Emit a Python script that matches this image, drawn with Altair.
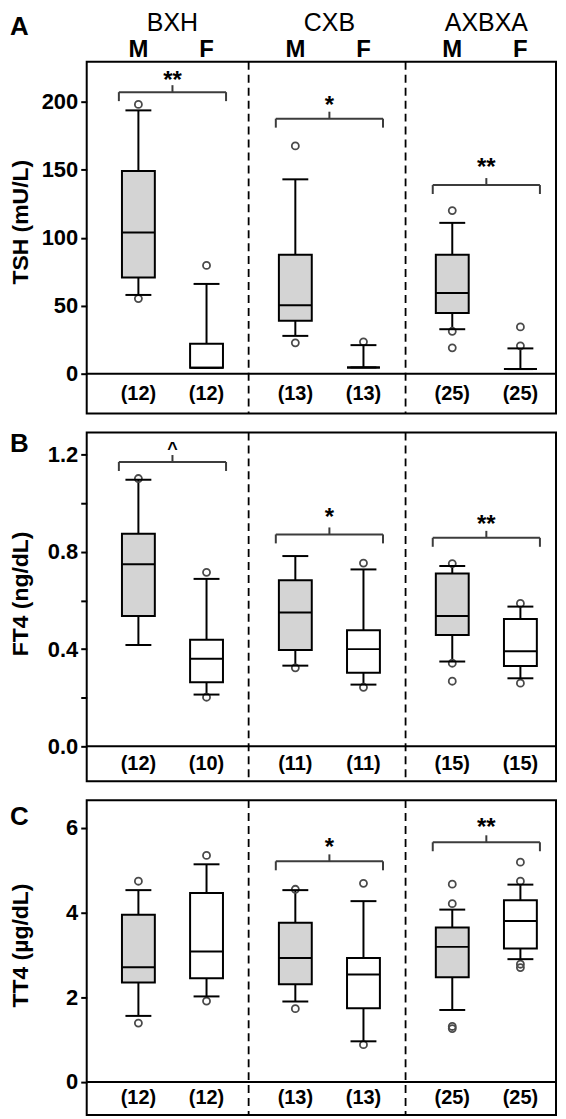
import altair as alt
import pandas as pd

FONT = "Liberation Sans"

groups = ["BXH", "CXB", "AXBXA"]
sexes = ["M", "F"]

# ---------- Panel A : TSH (mU/L) ----------
a_lo = [57.9, 4.4, 27.8, 4.6, 32.7, 3.4]
a_q1 = [70.8, 4.4, 39.0, 4.6, 44.7, 3.4]
a_med = [103.8, 4.4, 50.3, 4.6, 59.3, 3.4]
a_q3 = [149.0, 22.0, 87.4, 4.6, 87.4, 3.4]
a_hi = [193.6, 66.0, 142.9, 21.0, 110.9, 18.6]
a_out = [[198.0, 55.2], [79.6], [167.5, 22.7], [23.4], [119.9, 31.2, 19.0], [34.4, 20.5]]
a_n = [12, 12, 13, 13, 25, 25]
a_sig_groups = ["BXH", "CXB", "AXBXA"]
a_sig_line = [207.0, 187.5, 138.7]
a_sig_text = ["**", "*", "**"]
a_sig_texty = [220.0, 201.7, 156.6]
a_ticks = [0, 50, 100, 150, 200]

# ---------- Panel B : FT4 (ng/dL) ----------
b_lo = [0.417, 0.213, 0.332, 0.254, 0.349, 0.280]
b_q1 = [0.536, 0.264, 0.396, 0.303, 0.458, 0.331]
b_med = [0.749, 0.360, 0.551, 0.400, 0.536, 0.391]
b_q3 = [0.875, 0.439, 0.683, 0.478, 0.711, 0.524]
b_hi = [1.097, 0.689, 0.783, 0.728, 0.742, 0.575]
b_out = [[1.102], [0.716, 0.202], [0.323], [0.754, 0.243], [0.752, 0.342, 0.268], [0.588, 0.260]]
b_n = [12, 10, 11, 11, 15, 15]
b_sig_groups = ["BXH", "CXB", "AXBXA"]
b_sig_line = [1.17, 0.872, 0.858]
b_sig_text = ["^", "*", "**"]
b_sig_texty = [1.235, 0.968, 0.94]
b_ticks = [0.0, 0.2, 0.4, 0.6, 0.8, 1.0, 1.2]

# ---------- Panel C : TT4 (µg/dL) ----------
c_lo = [1.56, 2.02, 1.90, 0.96, 1.70, 2.90]
c_q1 = [2.35, 2.45, 2.31, 1.74, 2.47, 3.15]
c_med = [2.71, 3.08, 2.93, 2.54, 3.19, 3.80]
c_q3 = [3.95, 4.46, 3.76, 2.93, 3.65, 4.29]
c_hi = [4.53, 5.14, 4.53, 4.27, 4.07, 4.66]
c_out = [[4.74, 1.39], [5.35, 1.91], [4.55, 1.73], [4.69, 0.88],
         [4.67, 4.21, 1.31, 1.26], [5.19, 4.74, 2.78, 2.70]]
c_n = [12, 12, 13, 13, 25, 25]
c_sig_groups = ["CXB", "AXBXA"]
c_sig_line = [5.21, 5.66]
c_sig_text = ["*", "**"]
c_sig_texty = [5.70, 6.17]
c_ticks = [0, 2, 4, 6]

# ---------- layout helpers ----------
GROUP_W = 2.05
OFF = {"M": 0.61, "F": 1.50}
BRACKET_HALF = 0.70
W = 471
LEFT = -77


def pos_of(g, s):
    return groups.index(g) * GROUP_W + OFF[s]


keys = [(g, s) for g in groups for s in sexes]


def panel(letter, ytitle, lo, q1, med, q3, hi, outl, ns, sg, sl, st, sty,
          ticks, ydom, height, letter_y, label_expr=None, headers=False):
    ppu = height / (ydom[1] - ydom[0])
    zero_px = height * ydom[1] / (ydom[1] - ydom[0])
    xs = alt.Scale(domain=[0, 6], nice=False, zero=False)
    ys = alt.Scale(domain=ydom, nice=False, zero=False)
    ax = dict(title=ytitle, values=ticks, domain=False, grid=False, ticks=True,
              tickSize=6, tickWidth=2, tickColor="black",
              labelFontSize=22, labelFontWeight="bold", labelColor="black",
              labelPadding=3, labelFont=FONT,
              titleFont=FONT, titleFontSize=23, titleFontWeight="bold",
              titleColor="black", titleX=-66, titleY=zero_px / 2 + 4,
              titleBaseline="middle", titleAlign="center", titleAngle=270)
    if label_expr:
        ax["labelExpr"] = label_expr
    yax = alt.Axis(**ax)

    def X(f):
        return alt.X(f"{f}:Q", scale=xs, axis=None)

    def Y(f):
        return alt.Y(f"{f}:Q", scale=ys, axis=yax)

    df = pd.DataFrame({
        "group": [k[0] for k in keys],
        "sex": [k[1] for k in keys],
        "pos": [pos_of(*k) for k in keys],
        "lo": lo, "q1": q1, "med": med, "q3": q3, "hi": hi, "n": ns,
    })
    df["label"] = ["(%d)" % v for v in ns]
    df["cy"] = ydom[0] / 2

    orows = []
    for k, vals in zip(keys, outl):
        for v in vals:
            orows.append({"pos": pos_of(*k), "v": v})
    odf = pd.DataFrame(orows)

    sep = pd.DataFrame({"x": [GROUP_W, 2 * GROUP_W]})
    zero = pd.DataFrame({"y": [0.0]})

    bdf = pd.DataFrame({"group": sg, "y": sl, "lab": st, "ly": sty})
    bdf["xc"] = [(pos_of(g, "M") + pos_of(g, "F")) / 2 for g in sg]
    bdf["x1"] = bdf["xc"] - BRACKET_HALF
    bdf["x2"] = bdf["xc"] + BRACKET_HALF
    bdf["yend"] = bdf["y"] - 9 / ppu
    bdf["ytop"] = bdf["y"] + 7 / ppu

    base = alt.Chart(df)
    layers = [
        alt.Chart(sep).mark_rule(strokeDash=[8, 5], strokeWidth=1.8, color="black")
        .encode(x=X("x")),
        alt.Chart(zero).mark_rule(strokeWidth=2, color="black").encode(y=Y("y")),
        base.mark_rule(strokeWidth=2, color="black").encode(x=X("pos"), y=Y("q3"), y2="hi:Q"),
        base.mark_rule(strokeWidth=2, color="black").encode(x=X("pos"), y=Y("lo"), y2="q1:Q"),
        alt.Chart(odf).mark_point(shape="circle", size=50, filled=False, opacity=1,
                                  stroke="#4a4a4a", strokeWidth=1.8)
        .encode(x=X("pos"), y=Y("v")),
        base.mark_tick(orient="horizontal", size=26, thickness=2, color="black", opacity=1)
        .encode(x=X("pos"), y=Y("hi")),
        base.mark_tick(orient="horizontal", size=26, thickness=2, color="black", opacity=1)
        .encode(x=X("pos"), y=Y("lo")),
        base.mark_bar(width=33, stroke="black", strokeWidth=2)
        .encode(x=X("pos"), y=Y("q1"), y2="q3:Q",
                fill=alt.Fill("sex:N", scale=alt.Scale(domain=["M", "F"], range=["#d4d4d4", "#ffffff"]),
                              legend=None)),
        base.mark_tick(orient="horizontal", size=33, thickness=2, color="black", opacity=1)
        .encode(x=X("pos"), y=Y("med")),
        # significance brackets
        alt.Chart(bdf).mark_rule(strokeWidth=2, color="#3c3c3c")
        .encode(x=X("x1"), x2="x2:Q", y=Y("y")),
        alt.Chart(bdf).mark_rule(strokeWidth=2, color="#3c3c3c")
        .encode(x=X("x1"), y=Y("y"), y2="yend:Q"),
        alt.Chart(bdf).mark_rule(strokeWidth=2, color="#3c3c3c")
        .encode(x=X("x2"), y=Y("y"), y2="yend:Q"),
        alt.Chart(bdf).mark_rule(strokeWidth=2, color="#3c3c3c")
        .encode(x=X("xc"), y=Y("y"), y2="ytop:Q"),
        alt.Chart(bdf[bdf["lab"] != "^"]).mark_text(font=FONT, fontSize=24, fontWeight="bold",
                                                   baseline="alphabetic", dy=14, color="black")
        .encode(x=X("xc"), y=Y("ly"), text="lab:N"),
        alt.Chart(bdf[bdf["lab"] == "^"]).mark_text(font=FONT, fontSize=18, fontWeight="bold",
                                                   baseline="alphabetic", dy=9, color="black")
        .encode(x=X("xc"), y=Y("ly"), text="lab:N"),
        # sample sizes
        base.mark_text(font=FONT, fontSize=20, fontWeight="bold", baseline="middle", color="black")
        .encode(x=X("pos"), y=Y("cy"), text="label:N"),
        # panel letter
        alt.Chart(pd.DataFrame({"t": [letter]})).mark_text(
            font=FONT, fontSize=26, fontWeight="bold", align="left", baseline="middle", color="black")
        .encode(x=alt.value(LEFT), y=alt.value(letter_y), text="t:N"),
    ]
    if headers:
        hdf = pd.DataFrame({"pos": [pos_of(*k) for k in keys], "s": [k[1] for k in keys]})
        gdf = pd.DataFrame({"g": groups,
                            "pos": [(pos_of(g, "M") + pos_of(g, "F")) / 2 for g in groups]})
        layers.append(
            alt.Chart(hdf).mark_text(font=FONT, fontSize=24, fontWeight="bold",
                                     baseline="middle", color="black")
            .encode(x=X("pos"), y=alt.value(-12), text="s:N"))
        layers.append(
            alt.Chart(gdf).mark_text(font=FONT, fontSize=25, fontWeight="normal",
                                     baseline="middle", color="black")
            .encode(x=X("pos"), y=alt.value(-39), text="g:N"))
    return alt.layer(*layers).properties(width=W, height=height)


pA = panel("A", "TSH (mU/L)", a_lo, a_q1, a_med, a_q3, a_hi, a_out, a_n,
           a_sig_groups, a_sig_line, a_sig_text, a_sig_texty,
           a_ticks, [-29.3, 229.3], 353, -35, headers=True)
pB = panel("B", "FT4 (ng/dL)", b_lo, b_q1, b_med, b_q3, b_hi, b_out, b_n,
           b_sig_groups, b_sig_line, b_sig_text, b_sig_texty,
           b_ticks, [-0.1435, 1.2915], 350, 12,
           label_expr="round(datum.value*10) % 4 == 0 ? format(datum.value, '.1f') : ''")
pC = panel("C", "TT4 (µg/dL)", c_lo, c_q1, c_med, c_q3, c_hi, c_out, c_n,
           c_sig_groups, c_sig_line, c_sig_text, c_sig_texty,
           c_ticks, [-0.78, 6.655], 316, 17)

chart = (
    alt.vconcat(pA, pB, pC, spacing=15, padding=0)
    .configure(font=FONT)
    .configure_view(stroke="black", strokeWidth=2)
)

chart.save("out.html", embed_options={"renderer": "svg", "actions": False})
